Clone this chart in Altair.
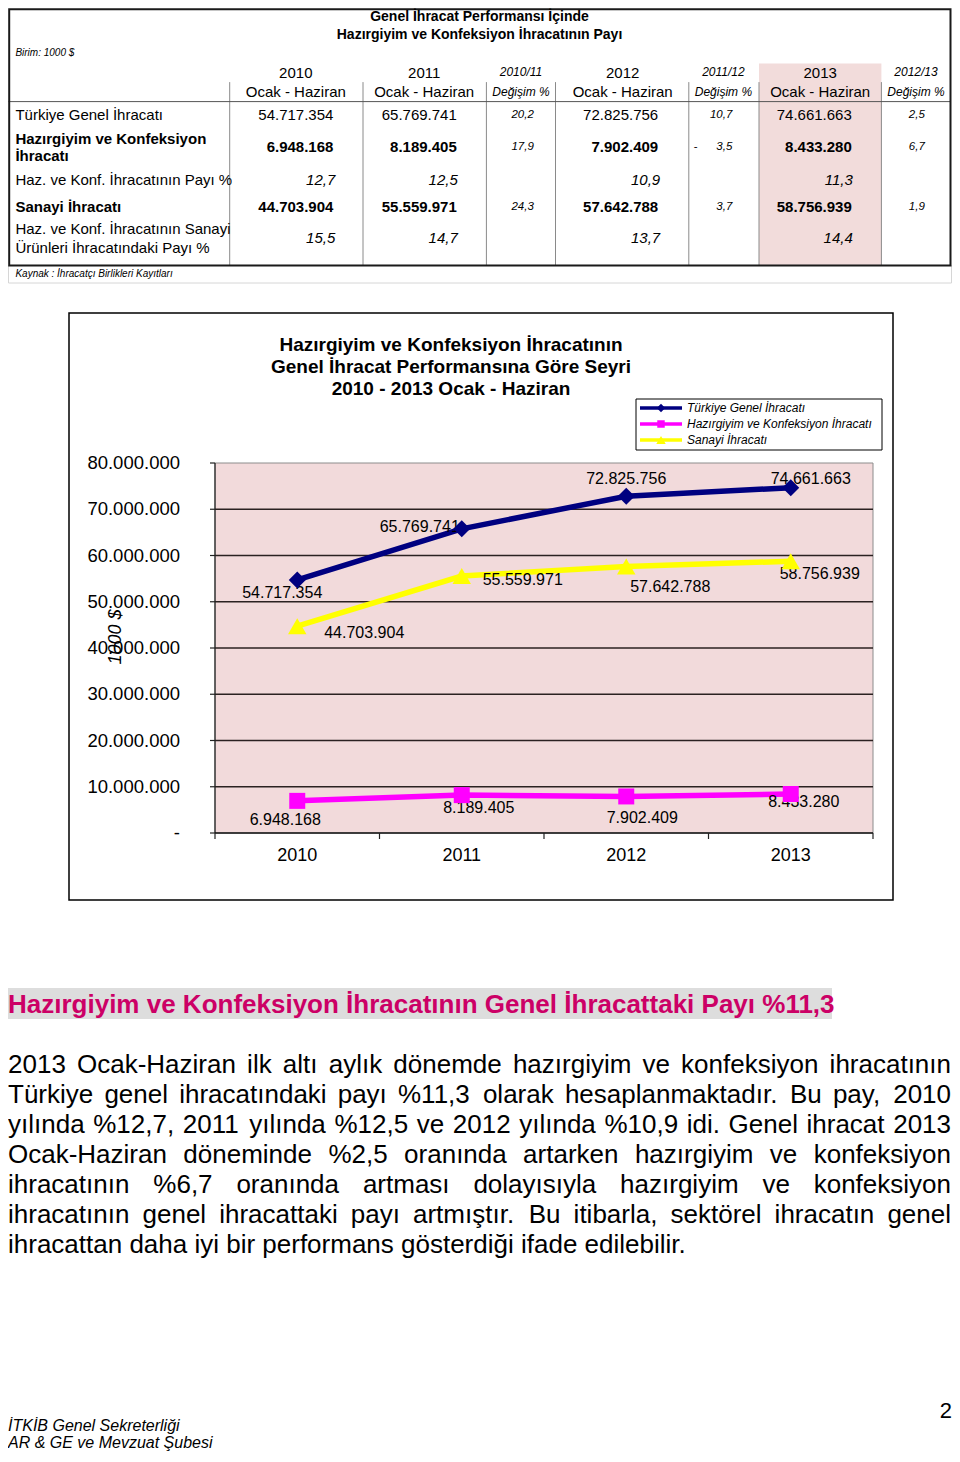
import altair as alt
import pandas as pd

# ---------------- values ----------------
YEARS = ["2010", "2011", "2012", "2013"]
SERIES = ["Türkiye Genel İhracatı", "Hazırgiyim ve Konfeksiyon İhracatı", "Sanayi İhracatı"]
GENEL = [54717354, 65769741, 72825756, 74661663]
HAZIR = [6948168, 8189405, 7902409, 8433280]
SANAYI = [44703904, 55559971, 57642788, 58756939]
PAY_GENEL = [12.7, 12.5, 10.9, 11.3]
PAY_SANAYI = [15.5, 14.7, 13.7, 14.4]
CHANGE_PERIODS = ["2010/11", "2011/12", "2012/13"]
CHG_GENEL = [20.2, 10.7, 2.5]
CHG_HAZIR = [17.9, -3.5, 6.7]
CHG_SANAYI = [24.3, 3.7, 1.9]
Y_TICKS = [0, 10000000, 20000000, 30000000, 40000000, 50000000, 60000000, 70000000, 80000000]
Y_TICK_LABELS = ["-", "10.000.000", "20.000.000", "30.000.000", "40.000.000",
                 "50.000.000", "60.000.000", "70.000.000", "80.000.000"]

TABLE_TITLE = ["Genel İhracat Performansı İçinde", "Hazırgiyim ve Konfeksiyon İhracatının Payı"]
UNIT = "Birim: 1000 $"
PERIOD = "Ocak - Haziran"
CHANGE_HDR = "Değişim %"
ROW_LABELS_NORMAL = ["Türkiye Genel İhracatı", "Haz. ve Konf. İhracatının Payı %",
                     "Haz. ve Konf. İhracatının Sanayi", "Ürünleri İhracatındaki Payı %"]
ROW_LABELS_BOLD = ["Hazırgiyim ve Konfeksiyon", "İhracatı", "Sanayi İhracatı"]
SOURCE = "Kaynak : İhracatçı Birlikleri Kayıtları"
CHART_TITLE = ["Hazırgiyim ve Konfeksiyon İhracatının", "Genel İhracat Performansına Göre Seyri",
               "2010 - 2013 Ocak  - Haziran"]
Y_TITLE = "1000 $"
HEADING = "Hazırgiyim ve Konfeksiyon İhracatının Genel İhracattaki Payı %11,3"
PARAGRAPH = [
    "2013 Ocak-Haziran ilk altı aylık dönemde hazırgiyim ve konfeksiyon ihracatının",
    "Türkiye genel ihracatındaki  payı %11,3 olarak hesaplanmaktadır. Bu pay, 2010",
    "yılında %12,7, 2011 yılında %12,5 ve 2012 yılında %10,9 idi. Genel ihracat 2013",
    "Ocak-Haziran döneminde %2,5 oranında artarken hazırgiyim ve konfeksiyon",
    "ihracatının %6,7 oranında artması dolayısıyla hazırgiyim ve konfeksiyon",
    "ihracatının genel ihracattaki payı artmıştır. Bu itibarla, sektörel ihracatın genel",
    "ihracattan daha iyi bir performans gösterdiği ifade edilebilir.",
]
FOOTER = ["İTKİB Genel Sekreterliği", "AR & GE ve Mevzuat Şubesi"]
PAGE_NO = "2"

# ---------------- layout / style ----------------
FONT = "Liberation Sans"
COLORS = ["#000080", "#FF00FF", "#FFFF00"]
SHAPES = ["diamond", "square", "triangle-up"]
SIZES = [290, 256, 340]
LEG_SIZES = [70, 56, 90]
PINK = "#F2DADB"
LABEL_OFFSETS = {
    (0, 0): (-15, 13), (0, 1): (-42, -2), (0, 2): (0, -17), (0, 3): (20, -9),
    (1, 0): (-12, 19), (1, 1): (17, 13), (1, 2): (16, 22), (1, 3): (13, 8),
    (2, 0): (67, 7), (2, 1): (61, 4), (2, 2): (44, 21), (2, 3): (29, 13),
}

ONE = pd.DataFrame({"k": [0]})


def fmt_int(v):
    return f"{v:,}".replace(",", ".")


def fmt_pct(v):
    return f"{abs(v):.1f}".replace(".", ",")


def TX(r):
    return round(0.5 + (r - 3) * 943.0 / 955.0, 1)


def TY(r):
    return round(1 + (r - 2) * 0.975, 1)


def texts(rows, **kw):
    df = pd.DataFrame(rows, columns=["t", "x", "y"])
    props = dict(font=FONT, fontSize=15, color="black", baseline="middle", align="left")
    props.update(kw)
    return alt.Chart(df).mark_text(**props).encode(
        x=alt.X("x:Q", scale=None, axis=None),
        y=alt.Y("y:Q", scale=None, axis=None),
        text="t:N",
    )


def box(x, y, x2, y2, **kw):
    return alt.Chart(ONE).mark_rect(**kw).encode(
        x=alt.value(x), x2=alt.value(x2), y=alt.value(y), y2=alt.value(y2))


def seg(x, y, x2, y2, **kw):
    return alt.Chart(ONE).mark_rule(**kw).encode(
        x=alt.value(x), x2=alt.value(x2), y=alt.value(y), y2=alt.value(y2))


layers = []

# ================= TABLE =================
YEAR_CENTER = [294, 424, 625, 825]
CHG_CENTER = [522, 727, 922]
VAL_RIGHT = [332, 457, 661, 857]
PCT_RIGHT = [334, 458, 663, 858]
CHG_RIGHT = [535, 736, 931]
CHG_LEFT = [492, 697, 892]

layers.append(box(TX(763), TY(58), TX(887), TY(265), fill="#F2DCDB", strokeWidth=0))
layers.append(box(TX(3), TY(265), TX(958), TY(283), fill="white", fillOpacity=0,
                  stroke="#d6d6d6", strokeWidth=1))
for r in [227, 362, 487, 557, 692, 763, 887]:
    layers.append(seg(TX(r), TY(77), TX(r), TY(265), color="#8a8a8a", strokeWidth=1))
layers.append(seg(TX(3), TY(97), TX(957), TY(97), color="#555555", strokeWidth=1))
layers.append(box(1.2, 1.2, TX(957), TY(265), fill="white", fillOpacity=0,
                  stroke="#1a1a1a", strokeWidth=2))

layers.append(texts([(TABLE_TITLE[0], TX(480), TY(10)), (TABLE_TITLE[1], TX(480), TY(29))],
                    fontWeight="bold", fontSize=14, align="center"))
layers.append(texts([(UNIT, TX(10), TY(47))], fontStyle="italic", fontSize=10))
layers.append(texts([(y, TX(c), TY(68)) for y, c in zip(YEARS, YEAR_CENTER)]
                    + [(PERIOD, TX(c), TY(87)) for c in YEAR_CENTER],
                    fontSize=15, align="center"))
layers.append(texts([(p, TX(c), TY(67)) for p, c in zip(CHANGE_PERIODS, CHG_CENTER)]
                    + [(CHANGE_HDR, TX(c), TY(87)) for c in CHG_CENTER],
                    fontStyle="italic", fontSize=12, align="center"))

layers.append(texts([(ROW_LABELS_NORMAL[0], TX(10), TY(111)), (ROW_LABELS_NORMAL[1], TX(10), TY(177)),
                     (ROW_LABELS_NORMAL[2], TX(10), TY(228)), (ROW_LABELS_NORMAL[3], TX(10), TY(247))],
                    fontSize=15))
layers.append(texts([(ROW_LABELS_BOLD[0], TX(10), TY(135)), (ROW_LABELS_BOLD[1], TX(10), TY(153)),
                     (ROW_LABELS_BOLD[2], TX(10), TY(205))], fontSize=15, fontWeight="bold"))

layers.append(texts([(fmt_int(v), TX(r), TY(111)) for v, r in zip(GENEL, VAL_RIGHT)],
                    fontSize=15, align="right"))
layers.append(texts([(fmt_int(v), TX(r), TY(144)) for v, r in zip(HAZIR, VAL_RIGHT)]
                    + [(fmt_int(v), TX(r), TY(205)) for v, r in zip(SANAYI, VAL_RIGHT)],
                    fontSize=15, align="right", fontWeight="bold"))
layers.append(texts([(fmt_pct(v), TX(r), TY(177)) for v, r in zip(PAY_GENEL, PCT_RIGHT)]
                    + [(fmt_pct(v), TX(r), TY(237)) for v, r in zip(PAY_SANAYI, PCT_RIGHT)],
                    fontSize=15, align="right", fontStyle="italic"))
chg_rows = []
dash_rows = []
for vals, yy in [(CHG_GENEL, 111), (CHG_HAZIR, 144), (CHG_SANAYI, 205)]:
    for i, v in enumerate(vals):
        chg_rows.append((fmt_pct(v), TX(CHG_RIGHT[i]), TY(yy)))
        if v < 0:
            dash_rows.append(("-", TX(CHG_LEFT[i]), TY(yy)))
layers.append(texts(chg_rows, fontSize=11.5, align="right", fontStyle="italic"))
if dash_rows:
    layers.append(texts(dash_rows, fontSize=11.5, align="left"))
layers.append(texts([(SOURCE, TX(10), TY(274))], fontStyle="italic", fontSize=10))

# ================= CHART =================
PX0, PX1, PY_TOP, PY_BOT = 207, 865, 455, 825
x_point = alt.Scale(type="point", domain=YEARS, range=[PX0, PX1], padding=0.5)
x_band = alt.Scale(type="band", domain=YEARS, range=[PX0, PX1], paddingInner=0, paddingOuter=0)
y_scale = alt.Scale(type="linear", domain=[0, 80000000], range=[PY_BOT, PY_TOP], nice=False, zero=False)
color_scale = alt.Scale(domain=SERIES, range=COLORS)

rows = []
for si, (s, vals) in enumerate(zip(SERIES, [GENEL, HAZIR, SANAYI])):
    for yi, (yr, v) in enumerate(zip(YEARS, vals)):
        rows.append({"series": s, "year": yr, "value": v, "label": fmt_int(v), "key": f"{si}-{yi}"})
data = pd.DataFrame(rows)
ticks = pd.DataFrame({"v": Y_TICKS, "label": Y_TICK_LABELS})
years_df = pd.DataFrame({"year": YEARS})

layers.append(box(61, 305, 885, 892, fill="white", fillOpacity=0, stroke="black", strokeWidth=1.5))
layers.append(texts([(t, 443, y) for t, y in zip(CHART_TITLE, [337, 359, 381])],
                    fontWeight="bold", fontSize=19, align="center"))
layers.append(box(PX0, PY_TOP, PX1, PY_BOT, fill=PINK, stroke="#8c8c8c", strokeWidth=1))
layers.append(alt.Chart(ticks[(ticks.v > 0) & (ticks.v < 80000000)]).mark_rule(
    color="#2b2121", strokeWidth=1.5).encode(
    x=alt.value(PX0), x2=alt.value(PX1), y=alt.Y("v:Q", scale=y_scale, axis=None)))
layers.append(alt.Chart(ticks).mark_rule(color="#222222", strokeWidth=1.2).encode(
    x=alt.value(PX0 - 5), x2=alt.value(PX0), y=alt.Y("v:Q", scale=y_scale, axis=None)))
layers.append(alt.Chart(ticks).mark_text(font=FONT, fontSize=18.5, align="right", baseline="middle",
                                         color="black").encode(
    x=alt.value(172), y=alt.Y("v:Q", scale=y_scale, axis=None), text="label:N"))
layers.append(seg(PX0, PY_TOP, PX0, PY_BOT, color="#222222", strokeWidth=1.2))
layers.append(seg(PX0, PY_BOT, PX1, PY_BOT, color="#111111", strokeWidth=1.5))
layers.append(alt.Chart(years_df).mark_rule(color="#222222", strokeWidth=1.2).encode(
    x=alt.X("year:N", scale=x_band, axis=None, bandPosition=0),
    y=alt.value(PY_BOT), y2=alt.value(PY_BOT + 6)))
layers.append(seg(PX1, PY_BOT, PX1, PY_BOT + 6, color="#222222", strokeWidth=1.2))
layers.append(alt.Chart(years_df).mark_text(font=FONT, fontSize=18, align="center", baseline="middle",
                                            color="black").encode(
    x=alt.X("year:N", scale=x_point, axis=None), y=alt.value(848), text="year:N"))
layers.append(texts([(Y_TITLE, 108, 629)], angle=270, fontStyle="italic", fontSize=18, align="center"))

# lines, then data labels, then markers on top
layers.append(alt.Chart(data).mark_line(strokeWidth=5.5).encode(
    x=alt.X("year:N", scale=x_point, axis=None),
    y=alt.Y("value:Q", scale=y_scale, axis=None),
    color=alt.Color("series:N", scale=color_scale, legend=None)))
for (si, yi), (dx, dy) in LABEL_OFFSETS.items():
    layers.append(alt.Chart(data).transform_filter(
        alt.FieldEqualPredicate(field="key", equal=f"{si}-{yi}")).mark_text(
        font=FONT, fontSize=16, align="center", baseline="middle", color="black", dx=dx, dy=dy).encode(
        x=alt.X("year:N", scale=x_point, axis=None),
        y=alt.Y("value:Q", scale=y_scale, axis=None),
        text="label:N"))
for si, s in enumerate(SERIES):
    layers.append(alt.Chart(data).transform_filter(
        alt.FieldEqualPredicate(field="series", equal=s)).mark_point(
        filled=True, opacity=1, shape=SHAPES[si], size=SIZES[si], color=COLORS[si]).encode(
        x=alt.X("year:N", scale=x_point, axis=None),
        y=alt.Y("value:Q", scale=y_scale, axis=None)))

# legend
leg_df = pd.DataFrame({"series": SERIES})
leg_y = alt.Scale(type="point", domain=SERIES, range=[400, 432], padding=0)
layers.append(box(628, 391, 874, 442, fill="white", stroke="black", strokeWidth=1))
layers.append(alt.Chart(leg_df).mark_rule(strokeWidth=3.5).encode(
    x=alt.value(632), x2=alt.value(674),
    y=alt.Y("series:N", scale=leg_y, axis=None),
    color=alt.Color("series:N", scale=color_scale, legend=None)))
for si, s in enumerate(SERIES):
    layers.append(alt.Chart(leg_df).transform_filter(
        alt.FieldEqualPredicate(field="series", equal=s)).mark_point(
        filled=True, opacity=1, shape=SHAPES[si], size=LEG_SIZES[si], color=COLORS[si]).encode(
        x=alt.value(653), y=alt.Y("series:N", scale=leg_y, axis=None)))
layers.append(alt.Chart(leg_df).mark_text(font=FONT, fontSize=12, fontStyle="italic", align="left",
                                          baseline="middle", color="black").encode(
    x=alt.value(679), y=alt.Y("series:N", scale=leg_y, axis=None), text="series:N"))

# ================= TEXT BLOCK =================
W = {' ': 278, '%': 889, '&': 667, ',': 278, '-': 333, '.': 278, '$': 556, ':': 278, '/': 278,
     'A': 667, 'B': 667, 'C': 722, 'D': 722, 'E': 667, 'F': 611, 'G': 778, 'H': 722, 'I': 278,
     'J': 500, 'K': 667, 'L': 556, 'M': 833, 'N': 722, 'O': 778, 'P': 667, 'R': 722, 'S': 667,
     'T': 611, 'U': 722, 'V': 667, 'Y': 667, 'Z': 611,
     'a': 556, 'b': 556, 'c': 500, 'd': 556, 'e': 556, 'f': 278, 'g': 556, 'h': 556, 'i': 222,
     'j': 222, 'k': 500, 'l': 222, 'm': 833, 'n': 556, 'o': 556, 'p': 556, 'q': 556, 'r': 333,
     's': 500, 't': 278, 'u': 556, 'v': 500, 'w': 722, 'x': 500, 'y': 500, 'z': 500,
     'ı': 278, 'ş': 500, 'ğ': 556, 'ç': 500, 'ö': 556, 'ü': 556, 'İ': 278, 'Ş': 667, 'Ü': 722,
     'Ö': 778, 'Ç': 722}


def tw(s, size):
    return sum(W.get(ch, 556) for ch in s) / 1000.0 * size


PARA_SIZE = 26
PARA_X0, PARA_W = 0, 943
word_rows = []
for li, line in enumerate(PARAGRAPH):
    words = line.split()
    widths = [tw(w, PARA_SIZE) for w in words]
    last = li == len(PARAGRAPH) - 1
    gap = tw(" ", PARA_SIZE) if last else (PARA_W - sum(widths)) / (len(words) - 1)
    x = PARA_X0
    yy = 1057 + 30 * li
    for w, wd in zip(words, widths):
        word_rows.append((w, round(x, 1), yy))
        x += wd + gap

layers.append(box(0, 980, 824, 1011, fill="#DDDDDD", strokeWidth=0))
layers.append(texts([(HEADING, 0, 997)], fontSize=26, fontWeight="bold", color="#CC0066"))
layers.append(texts(word_rows, fontSize=PARA_SIZE))
layers.append(texts([(PAGE_NO, 944, 1403)], fontSize=22, align="right"))
layers.append(texts([(FOOTER[0], 0, 1418), (FOOTER[1], 0, 1435)], fontSize=16, fontStyle="italic"))

chart = alt.layer(*layers).resolve_scale(
    x="independent", y="independent", color="independent"
).properties(
    width=944, height=1446, padding=0, autosize=alt.AutoSizeParams(type="none"),
    background="white",
).configure_view(stroke=None)

chart.save("out.html", embed_options={"renderer": "svg", "actions": False})
